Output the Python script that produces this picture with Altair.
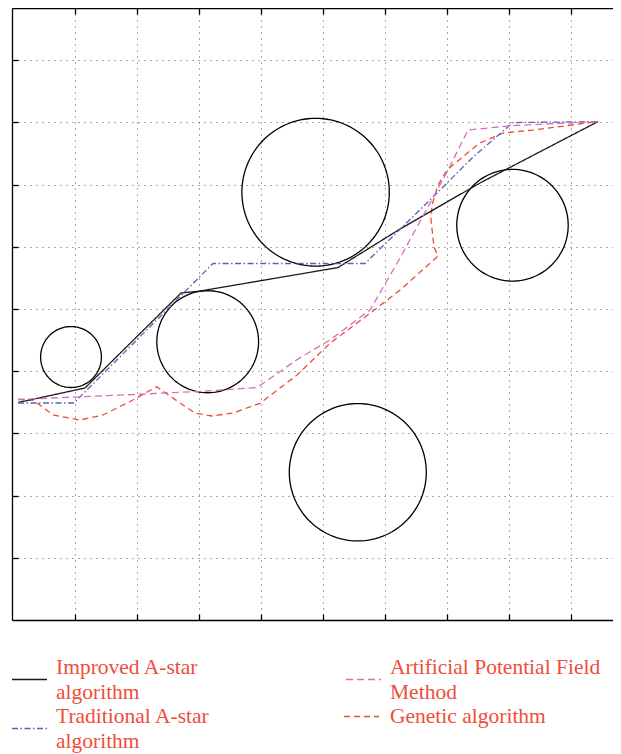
import altair as alt
import pandas as pd
import numpy as np

# ---- obstacles (centre x, centre y, radius) in grid units ----
circle_x = [0.936, 3.139, 4.878, 5.558, 8.051]
circle_y = [4.228, 4.474, 6.878, 2.375, 6.347]
circle_r = [0.49, 0.82, 1.188, 1.104, 0.898]

# ---- paths ----
main_series = ["Improved A-star algorithm", "Traditional A-star algorithm",
               "Artificial Potential Field Method"]
main_colors = ["#1a1a1a", "#5f5fb8", "#d46fbc"]
main_dashes = [[1, 0], [6, 2.5, 1.5, 2.5], [7, 4]]
gen_series = ["Genetic algorithm"]
gen_color = ["#ef4a35"]
gen_dash = [6, 4]

improved_x = [0.082, 1.161, 2.709, 3.015, 5.239, 6.238, 7.527, 9.429]
improved_y = [3.497, 3.730, 5.257, 5.289, 5.667, 6.286, 7.026, 8.014]

traditional_x = [0.082, 0.984, 3.224, 5.674, 6.770, 7.415, 8.059, 9.461]
traditional_y = [3.489, 3.489, 5.732, 5.732, 6.801, 7.444, 7.998, 8.014]

apf_x = [0.082, 0.984, 1.935, 3.128, 3.934, 4.594, 5.110, 5.755, 6.239, 6.996, 7.334, 8.059, 9.461]
apf_y = [3.545, 3.585, 3.625, 3.682, 3.738, 4.196, 4.502, 4.984, 5.820, 7.203, 7.878, 7.950, 8.014]

genetic_x = [0.082, 0.324, 0.646, 1.081, 1.451, 1.935, 2.317, 2.692, 2.934, 3.208, 3.547,
             3.982, 4.578, 5.110, 5.755, 6.239, 6.851, 6.786, 6.738, 6.754, 6.851, 6.996,
             7.286, 7.527, 7.898, 8.382, 9.429]
genetic_y = [3.545, 3.537, 3.296, 3.215, 3.296, 3.537, 3.751, 3.489, 3.328, 3.280, 3.328,
             3.484, 3.939, 4.449, 4.931, 5.305, 5.852, 5.997, 6.431, 6.672, 6.994, 7.235,
             7.476, 7.669, 7.830, 7.878, 8.014]

grid_values = list(range(1, 10))

# ---- build tables ----
rows = []
ang = np.linspace(0, 2 * np.pi, 121)
for i, (cx, cy, r) in enumerate(zip(circle_x, circle_y, circle_r)):
    for k, a in enumerate(ang):
        rows.append({"cid": i, "k": k, "x": cx + r * np.cos(a), "y": cy + r * np.sin(a)})
circles = pd.DataFrame(rows)

path_rows = []
for name, xs, ys in [(main_series[0], improved_x, improved_y),
                     (main_series[1], traditional_x, traditional_y),
                     (main_series[2], apf_x, apf_y),
                     (gen_series[0], genetic_x, genetic_y)]:
    for k, (xv, yv) in enumerate(zip(xs, ys)):
        path_rows.append({"series": name, "k": k, "x": xv, "y": yv})
paths = pd.DataFrame(path_rows)

xscale = alt.Scale(domain=[-0.015, 9.671], nice=False, zero=False)
yscale = alt.Scale(domain=[0, 9.84], nice=False, zero=False)

common = dict(labels=False, title=None)
ax_bottom_grid = alt.Axis(orient="bottom", values=grid_values, grid=True, gridDash=[1, 5],
                          gridColor="#555555", gridWidth=1, domain=True, domainColor="black",
                          domainWidth=1.3, ticks=False, **common)
ax_left_grid = alt.Axis(orient="left", values=grid_values, grid=True, gridDash=[1, 5],
                        gridColor="#555555", gridWidth=1, domain=True, domainColor="black",
                        domainWidth=1.3, ticks=False, **common)
ax_bottom_ticks = alt.Axis(orient="bottom", values=grid_values, grid=False, domain=False,
                           ticks=True, tickSize=6, tickWidth=1.3, tickColor="black",
                           offset=-6, **common)
ax_left_ticks = alt.Axis(orient="left", values=grid_values, grid=False, domain=False,
                         ticks=True, tickSize=6, tickWidth=1.3, tickColor="black",
                         offset=-6, **common)
ax_top_domain = alt.Axis(orient="top", values=grid_values, grid=False, domain=True,
                         domainColor="black", domainWidth=1.3, ticks=False, **common)
ax_top_ticks = alt.Axis(orient="top", values=grid_values, grid=False, domain=False,
                        ticks=True, tickSize=6, tickWidth=1.3, tickColor="black",
                        offset=-6, **common)

label_expr = ("datum.label == 'Improved A-star algorithm' ? ['Improved A-star', 'algorithm'] : "
              "datum.label == 'Traditional A-star algorithm' ? ['Traditional A-star', 'algorithm'] : "
              "datum.label == 'Artificial Potential Field Method' ? ['Artificial Potential Field', 'Method'] : "
              "datum.label")

label_style = dict(labelFont="Liberation Serif", labelFontSize=21.5, labelColor="#ef4d3c",
                   labelLimit=0, title=None, padding=0,
                   symbolType="stroke", symbolSize=1225, symbolStrokeWidth=1.4)

legend_main = alt.Legend(orient="none", legendX=-1, legendY=653, columns=2, columnPadding=133,
                         rowPadding=2, gridAlign="each", labelBaseline="line-bottom",
                         labelOffset=8, labelExpr=label_expr, **label_style)
legend_gen = alt.Legend(orient="none", legendX=331, legendY=690, symbolDash=gen_dash,
                        labelOffset=10, labelBaseline="middle", **label_style)

color_enc = alt.Color("series:N", scale=alt.Scale(domain=main_series, range=main_colors),
                      legend=legend_main)
dash_enc = alt.StrokeDash("series:N", scale=alt.Scale(domain=main_series, range=main_dashes),
                          legend=legend_main)
stroke_enc = alt.Stroke("series:N", scale=alt.Scale(domain=gen_series, range=gen_color),
                        legend=legend_gen)

circ_a = alt.Chart(circles).transform_filter("datum.cid < 3").mark_line(
    color="black", strokeWidth=1.3).encode(
    x=alt.X("x:Q", scale=xscale, axis=ax_bottom_grid),
    y=alt.Y("y:Q", scale=yscale, axis=ax_left_grid),
    detail="cid:N", order="k:Q")

circ_b = alt.Chart(circles).transform_filter("datum.cid >= 3").mark_line(
    color="black", strokeWidth=1.3).encode(
    x=alt.X("x:Q", scale=xscale, axis=ax_top_domain),
    y=alt.Y("y:Q", scale=yscale, axis=None),
    detail="cid:N", order="k:Q")

paths_main = alt.Chart(paths).transform_filter(
    alt.FieldOneOfPredicate(field="series", oneOf=main_series)).mark_line(
    strokeWidth=1.3).encode(
    x=alt.X("x:Q", scale=xscale, axis=ax_bottom_ticks),
    y=alt.Y("y:Q", scale=yscale, axis=ax_left_ticks),
    color=color_enc, strokeDash=dash_enc, order="k:Q")

paths_gen = alt.Chart(paths).transform_filter(
    alt.FieldOneOfPredicate(field="series", oneOf=gen_series)).mark_line(
    strokeWidth=1.3, strokeDash=gen_dash).encode(
    x=alt.X("x:Q", scale=xscale, axis=ax_top_ticks),
    y=alt.Y("y:Q", scale=yscale, axis=None),
    stroke=stroke_enc, order="k:Q")

chart = alt.layer(circ_a, circ_b, paths_gen, paths_main).resolve_axis(
    x="independent", y="independent").properties(
    width=601, height=612,
    autosize=alt.AutoSizeParams(type="none"),
    padding={"left": 4, "top": 0, "right": 0, "bottom": 134},
).configure_view(stroke=None).configure(style={"guide-label": {"lineHeight": 25}})

chart.save("out.html", embed_options={"renderer": "svg", "actions": False})
